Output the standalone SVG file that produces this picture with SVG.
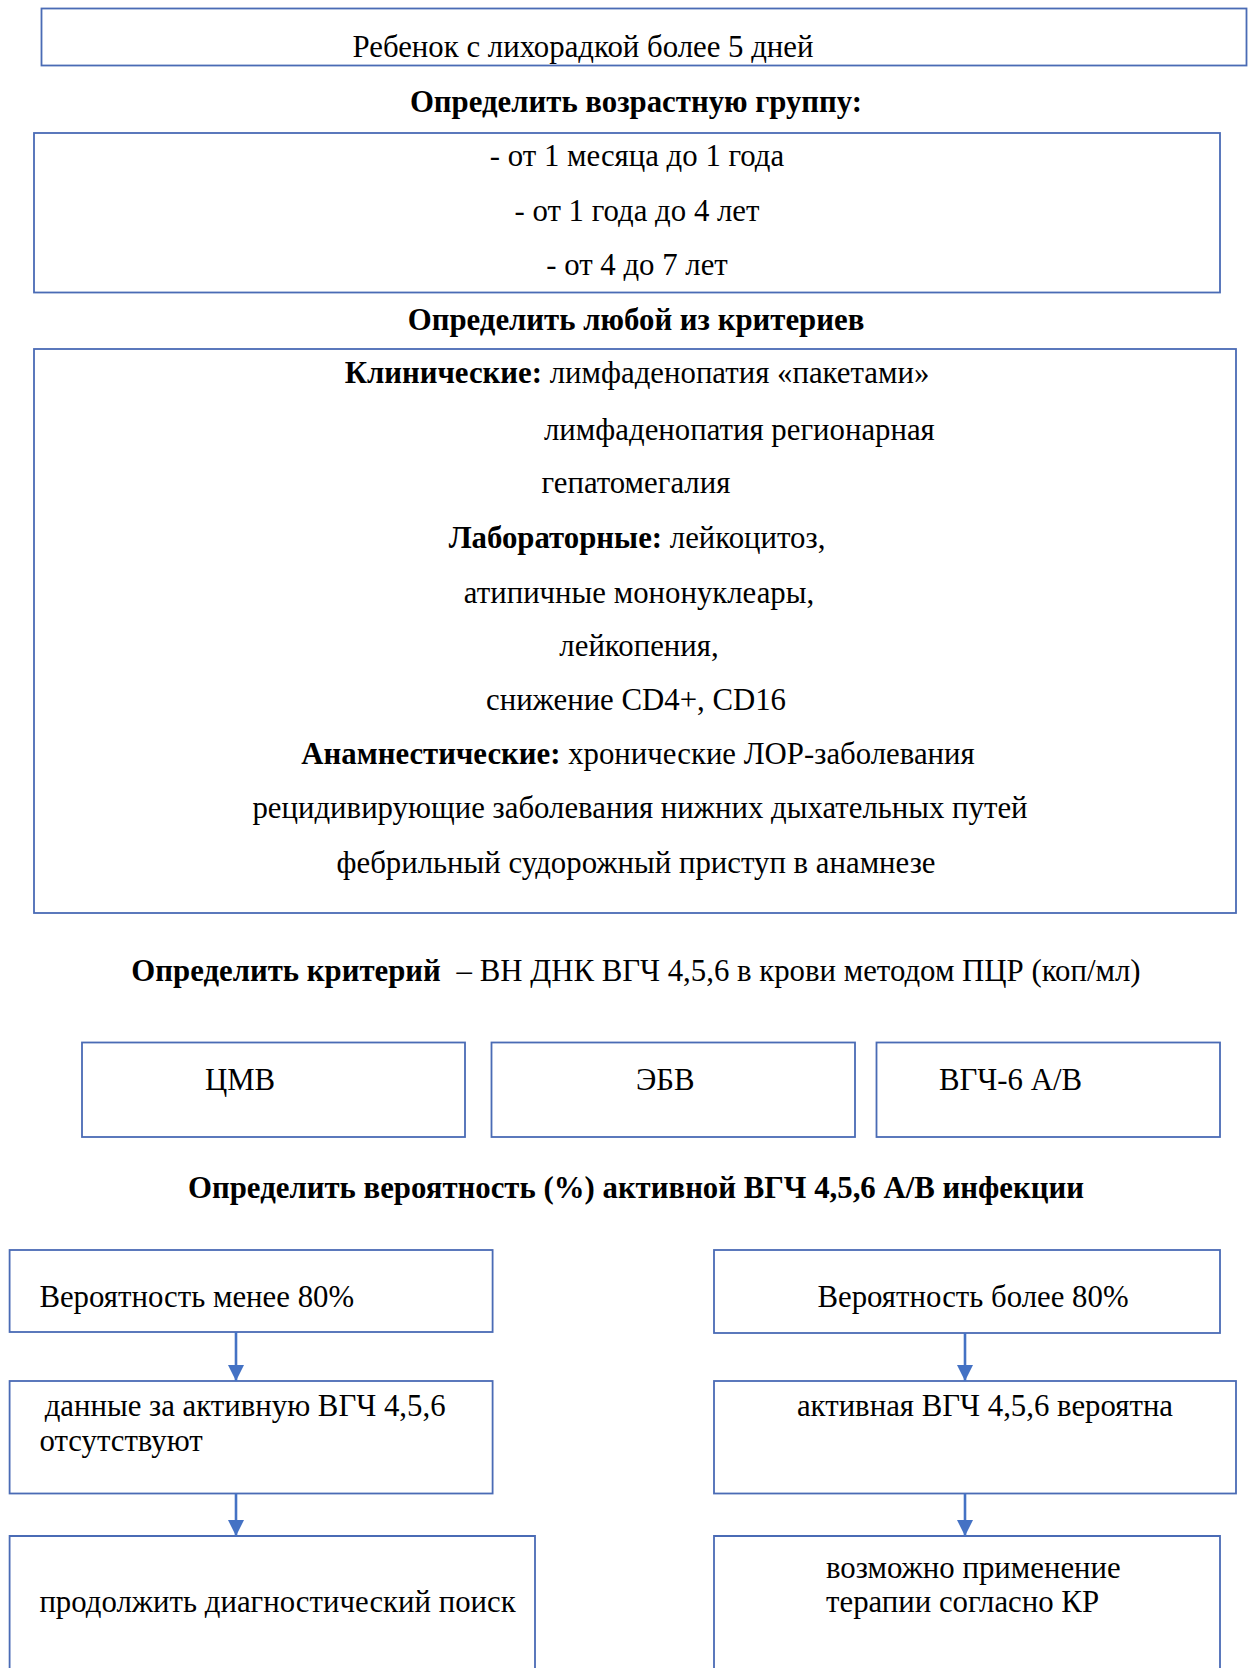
<svg xmlns="http://www.w3.org/2000/svg" width="1250" height="1668" viewBox="0 0 1250 1668">
<style>
  .box { fill: #ffffff; stroke: #4A6BB5; stroke-width: 1.8; }
  .t { font-family: "Liberation Serif", "Times New Roman", serif; font-size: 30.8px; fill: #000; }
  .c { text-anchor: middle; }
  .b { font-weight: bold; }
  .conn { stroke: #4472C4; stroke-width: 2.6; fill: none; }
</style>
<defs>
  <marker id="arr" markerUnits="userSpaceOnUse" markerWidth="16" markerHeight="16" viewBox="0 0 16 16" refX="16" refY="8" orient="auto">
    <path d="M0,0 L16,8 L0,16 z" fill="#4472C4"/>
  </marker>
</defs>
<rect width="1250" height="1668" fill="#ffffff"/>

<g id="start">
  <rect class="box" x="41.5" y="8.5" width="1205" height="57"/>
  <text class="t c" x="583" y="57">Ребенок с лихорадкой более 5 дней</text>
</g>

<g id="title-age">
  <text class="t c b" x="636" y="112">Определить возрастную группу:</text>
</g>

<g id="age">
  <rect class="box" x="34" y="133" width="1186" height="159.5"/>
  <text class="t c" x="637" y="166">- от 1 месяца до 1 года</text>
  <text class="t c" x="637" y="221">- от 1 года до 4 лет</text>
  <text class="t c" x="637" y="275">- от 4 до 7 лет</text>
</g>

<g id="title-criteria">
  <text class="t c b" x="636" y="330">Определить любой из критериев</text>
</g>

<g id="criteria">
  <rect class="box" x="34" y="349" width="1202" height="564"/>
  <text class="t c" x="637" y="383"><tspan class="b">Клинические:</tspan> лимфаденопатия «пакетами»</text>
  <text class="t" x="544" y="440">лимфаденопатия регионарная</text>
  <text class="t" x="541.5" y="493">гепатомегалия</text>
  <text class="t c" x="637" y="548"><tspan class="b">Лабораторные:</tspan> лейкоцитоз,</text>
  <text class="t c" x="639" y="603">атипичные мононуклеары,</text>
  <text class="t c" x="639" y="656">лейкопения,</text>
  <text class="t c" x="636" y="710">снижение CD4+, CD16</text>
  <text class="t c" x="638" y="764"><tspan class="b">Анамнестические:</tspan> хронические ЛОР-заболевания</text>
  <text class="t c" x="640" y="818">рецидивирующие заболевания нижних дыхательных путей</text>
  <text class="t c" x="636" y="873">фебрильный судорожный приступ в анамнезе</text>
</g>

<g id="title-pcr">
  <text class="t c" x="636" y="981"><tspan class="b">Определить критерий</tspan><tspan dx="8"> – ВН ДНК ВГЧ 4,5,6 в крови методом ПЦР (коп/мл)</tspan></text>
</g>

<g id="cmv">
  <rect class="box" x="82" y="1042.5" width="383" height="94.5"/>
  <text class="t" x="205" y="1090">ЦМВ</text>
</g>
<g id="ebv">
  <rect class="box" x="491.5" y="1042.5" width="363.5" height="94.5"/>
  <text class="t" x="636" y="1090">ЭБВ</text>
</g>
<g id="hhv6">
  <rect class="box" x="876.5" y="1042.5" width="343.5" height="94.5"/>
  <text class="t" x="939" y="1090">ВГЧ-6 А/В</text>
</g>

<g id="title-prob">
  <text class="t c b" x="636" y="1198">Определить вероятность (%) активной ВГЧ 4,5,6 А/В инфекции</text>
</g>

<g id="prob-low">
  <rect class="box" x="9.6" y="1250" width="483" height="82"/>
  <text class="t" x="39.4" y="1307">Вероятность менее 80%</text>
</g>
<g id="no-active">
  <rect class="box" x="9.6" y="1381" width="483" height="112.5"/>
  <text class="t" x="44.7" y="1416">данные за активную ВГЧ 4,5,6</text>
  <text class="t" x="39.4" y="1451">отсутствуют</text>
</g>
<g id="continue">
  <path class="box" d="M9.6,1669 V1536 H535 V1669"/>
  <text class="t" x="39.4" y="1612">продолжить диагностический поиск</text>
</g>

<g id="prob-high">
  <rect class="box" x="714" y="1250" width="506" height="83"/>
  <text class="t c" x="973" y="1307">Вероятность более 80%</text>
</g>
<g id="active">
  <rect class="box" x="714" y="1381" width="522" height="112.5"/>
  <text class="t c" x="985" y="1416">активная ВГЧ 4,5,6 вероятна</text>
</g>
<g id="therapy">
  <path class="box" d="M714,1669 V1536 H1220 V1669"/>
  <text class="t" x="826" y="1578">возможно применение</text>
  <text class="t" x="826" y="1612">терапии согласно КР</text>
</g>

<g id="connectors">
  <line class="conn" x1="236" y1="1332" x2="236" y2="1381" marker-end="url(#arr)"/>
  <line class="conn" x1="236" y1="1493.5" x2="236" y2="1536" marker-end="url(#arr)"/>
  <line class="conn" x1="965" y1="1333" x2="965" y2="1381" marker-end="url(#arr)"/>
  <line class="conn" x1="965" y1="1493.5" x2="965" y2="1536" marker-end="url(#arr)"/>
</g>
</svg>
